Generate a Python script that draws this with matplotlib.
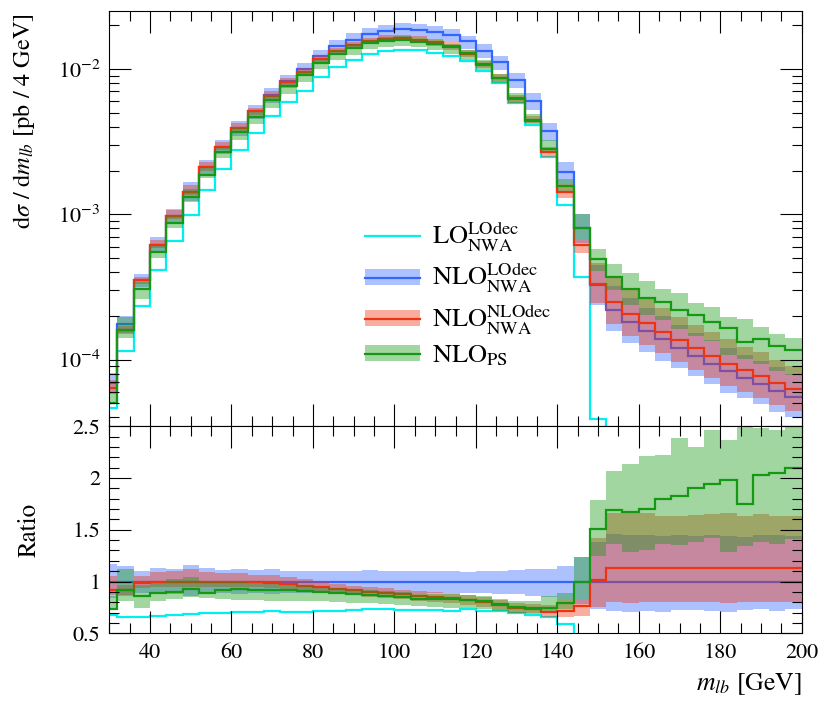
import numpy as np
import matplotlib
matplotlib.use('Agg')
import matplotlib.pyplot as plt
from matplotlib.ticker import MultipleLocator, FormatStrFormatter, NullFormatter
from matplotlib.lines import Line2D
from matplotlib.patches import Patch

plt.rcParams['font.family'] = 'STIXGeneral'
plt.rcParams['mathtext.fontset'] = 'stix'

# bins of 4 GeV, 28..200
bin_edges = np.arange(28, 201, 4)

# NLO_NWA^LOdec central value [pb/4GeV] (reference of the ratio)
nlo_lodec = [6.9e-5, 1.75e-4, 3.55e-4, 6.15e-4, 9.7e-4, 1.43e-3, 2.1e-3, 2.92e-3,
             3.94e-3, 5.1e-3, 6.63e-3, 8.3e-3, 1.0e-2, 1.23e-2, 1.43e-2, 1.59e-2,
             1.73e-2, 1.82e-2, 1.87e-2, 1.85e-2, 1.79e-2, 1.71e-2, 1.55e-2, 1.34e-2,
             1.12e-2, 8.4e-3, 6.05e-3, 3.77e-3, 1.97e-3, 8.1e-4, 3.25e-4, 2.2e-4,
             1.83e-4, 1.57e-4, 1.38e-4, 1.2e-4, 1.06e-4, 9.4e-5, 8.3e-5, 7.5e-5,
             6.8e-5, 6.1e-5, 5.55e-5]
nlo_lodec_hi = [1.17, 1.15, 1.10, 1.13, 1.12, 1.16, 1.13, 1.11, 1.12, 1.11, 1.12, 1.10,
                1.105, 1.105, 1.10, 1.105, 1.11, 1.10, 1.105, 1.10, 1.105, 1.10, 1.09,
                1.10, 1.105, 1.11, 1.125, 1.125, 1.155, 1.24, 1.38, 1.46, 1.45, 1.45,
                1.44, 1.45, 1.44, 1.45, 1.44, 1.43, 1.45, 1.45, 1.44]
nlo_lodec_lo = [0.84, 0.86, 0.89, 0.88, 0.88, 0.86, 0.88, 0.89, 0.88, 0.89, 0.88, 0.89,
                0.89, 0.89, 0.89, 0.89, 0.885, 0.89, 0.885, 0.89, 0.885, 0.89, 0.89,
                0.885, 0.88, 0.875, 0.865, 0.85, 0.83, 0.78, 0.73, 0.72, 0.71, 0.72,
                0.71, 0.725, 0.725, 0.72, 0.71, 0.725, 0.73, 0.72, 0.73]

# ratios to NLO_NWA^LOdec
lo_ratio = [0.675, 0.66, 0.655, 0.67, 0.68, 0.69, 0.70, 0.70, 0.705, 0.71, 0.715, 0.71,
            0.71, 0.72, 0.72, 0.725, 0.73, 0.73, 0.725, 0.725, 0.725, 0.72, 0.73, 0.72,
            0.715, 0.70, 0.68, 0.66, 0.59, 0.455, 0.12, 0, 0, 0, 0, 0, 0, 0, 0, 0,
            0, 0, 0]

nlodec_ratio = [0.92, 0.92, 0.99, 1.0, 1.0, 1.0, 1.0, 1.0, 1.0, 1.0, 0.99, 0.98, 0.96,
                0.95, 0.93, 0.915, 0.90, 0.89, 0.875, 0.86, 0.85, 0.84, 0.82, 0.80,
                0.77, 0.745, 0.73, 0.71, 0.72, 0.765, 1.015, 1.13, 1.13, 1.13, 1.13,
                1.13, 1.13, 1.13, 1.13, 1.13, 1.13, 1.13, 1.13]
nlodec_hi = [1.05, 0.97, 1.05, 1.09, 1.10, 1.12, 1.09, 1.08, 1.08, 1.06, 1.06, 1.045,
             1.02, 1.0, 0.98, 0.96, 0.95, 0.94, 0.92, 0.91, 0.90, 0.89, 0.87, 0.85,
             0.82, 0.79, 0.78, 0.77, 0.83, 0.83, 1.42, 1.66, 1.66, 1.66, 1.63, 1.63,
             1.64, 1.65, 1.66, 1.63, 1.65, 1.63, 1.63]
nlodec_lo = [0.87, 0.87, 0.94, 0.95, 0.95, 0.95, 0.95, 0.95, 0.95, 0.95, 0.94, 0.93,
             0.91, 0.90, 0.88, 0.87, 0.855, 0.845, 0.83, 0.815, 0.805, 0.795, 0.775,
             0.755, 0.725, 0.70, 0.69, 0.66, 0.66, 0.665, 0.75, 0.80, 0.79, 0.80, 0.80,
             0.80, 0.80, 0.80, 0.79, 0.80, 0.80, 0.80, 0.80]

ps_ratio = [0.73, 0.92, 0.86, 0.89, 0.90, 0.925, 0.89, 0.92, 0.93, 0.92, 0.92, 0.92,
            0.91, 0.90, 0.885, 0.875, 0.87, 0.86, 0.85, 0.835, 0.835, 0.835, 0.825,
            0.81, 0.78, 0.755, 0.74, 0.745, 0.79, 1.0, 1.51, 1.69, 1.67, 1.705, 1.80,
            1.83, 1.90, 1.94, 1.98, 1.75, 2.03, 2.05, 2.10]
ps_hi = [0.86, 1.125, 0.97, 0.99, 1.02, 1.04, 1.0, 1.0, 1.0, 0.99, 0.99, 0.97, 0.96,
         0.95, 0.94, 0.93, 0.92, 0.91, 0.90, 0.89, 0.88, 0.875, 0.874, 0.858, 0.83,
         0.81, 0.81, 0.86, 0.89, 1.24, 1.79, 2.07, 2.14, 2.21, 2.22, 2.39, 2.30, 2.46,
         2.37, 2.52, 2.48, 2.46, 2.55]
ps_lo = [0.73, 0.81, 0.74, 0.81, 0.83, 0.855, 0.84, 0.83, 0.82, 0.82, 0.81, 0.81,
         0.81, 0.81, 0.80, 0.79, 0.79, 0.78, 0.77, 0.76, 0.755, 0.745, 0.745, 0.73,
         0.72, 0.70, 0.70, 0.72, 0.73, 0.83, 1.25, 1.36, 1.29, 1.30, 1.36, 1.35, 1.38,
         1.42, 1.29, 1.34, 1.38, 1.36, 1.41]

labels = [r'$\mathrm{LO}^{\mathrm{LOdec}}_{\mathrm{NWA}}$',
          r'$\mathrm{NLO}^{\mathrm{LOdec}}_{\mathrm{NWA}}$',
          r'$\mathrm{NLO}^{\mathrm{NLOdec}}_{\mathrm{NWA}}$',
          r'$\mathrm{NLO}_{\mathrm{PS}}$']

c_lo = '#00f0f0'
c_blue = '#3366ff'
c_red = '#ee3311'
c_green = '#159915'
band_alpha = 0.4
lw = 1.6

ref = np.array(nlo_lodec)

fig = plt.figure(figsize=(8.3, 7.08), dpi=100)
ax1 = fig.add_axes([0.1317, 0.3979, 0.8342, 0.5866])
ax2 = fig.add_axes([0.1317, 0.1055, 0.8342, 0.2924], sharex=ax1)

######################################
# main panel
ax1.set_yscale('log')
ax1.stairs(ref * np.array(lo_ratio), bin_edges, baseline=None, color=c_lo, lw=lw)
ax1.stairs(ref * np.array(nlo_lodec_hi), bin_edges, baseline=ref * np.array(nlo_lodec_lo),
           fill=True, color=c_blue, alpha=band_alpha, lw=0)
ax1.stairs(ref, bin_edges, baseline=None, color=c_blue, lw=lw)
ax1.stairs(ref * np.array(nlodec_hi), bin_edges, baseline=ref * np.array(nlodec_lo),
           fill=True, color=c_red, alpha=band_alpha, lw=0)
ax1.stairs(ref * np.array(nlodec_ratio), bin_edges, baseline=None, color=c_red, lw=lw)
ax1.stairs(ref * np.array(ps_hi), bin_edges, baseline=ref * np.array(ps_lo),
           fill=True, color=c_green, alpha=band_alpha, lw=0)
ax1.stairs(ref * np.array(ps_ratio), bin_edges, baseline=None, color=c_green, lw=lw)

ax1.set_xlim(30, 200)
ax1.set_ylim(3.48e-5, 2.507e-2)
ax1.set_ylabel(r'$\mathrm{d}\sigma\ /\ \mathrm{d}m_{lb}$ [pb / 4 GeV]', fontsize=17.5, loc='top')
ax1.yaxis.set_label_coords(-0.104, 0.995)
ax1.yaxis.set_minor_formatter(NullFormatter())
plt.setp(ax1.get_xticklabels(), visible=False)

handles = [Line2D([], [], color=c_lo, lw=lw),
           (Patch(color=c_blue, alpha=band_alpha, lw=0), Line2D([], [], color=c_blue, lw=lw)),
           (Patch(color=c_red, alpha=band_alpha, lw=0), Line2D([], [], color=c_red, lw=lw)),
           (Patch(color=c_green, alpha=band_alpha, lw=0), Line2D([], [], color=c_green, lw=lw))]
ax1.legend(handles, labels, loc='center left', bbox_to_anchor=(0.335, 0.318),
           frameon=False, fontsize=19, handlelength=2.08, handleheight=0.55,
           handletextpad=0.45, labelspacing=0.27)

######################################
# ratio panel
ones = np.ones(len(ref))
ax2.stairs(lo_ratio, bin_edges, baseline=None, color=c_lo, lw=lw)
ax2.stairs(nlo_lodec_hi, bin_edges, baseline=nlo_lodec_lo, fill=True,
           color=c_blue, alpha=band_alpha, lw=0)
ax2.stairs(ones, bin_edges, baseline=None, color=c_blue, lw=lw)
ax2.stairs(nlodec_hi, bin_edges, baseline=nlodec_lo, fill=True,
           color=c_red, alpha=band_alpha, lw=0)
ax2.stairs(nlodec_ratio, bin_edges, baseline=None, color=c_red, lw=lw)
ax2.stairs(ps_hi, bin_edges, baseline=ps_lo, fill=True,
           color=c_green, alpha=band_alpha, lw=0)
ax2.stairs(ps_ratio, bin_edges, baseline=None, color=c_green, lw=lw)

ax2.set_ylim(0.5, 2.5)
ax2.yaxis.set_major_locator(MultipleLocator(0.5))
ax2.yaxis.set_minor_locator(MultipleLocator(0.1))
ax2.yaxis.set_major_formatter(FormatStrFormatter('%g'))
ax2.xaxis.set_major_locator(MultipleLocator(20))
ax2.xaxis.set_minor_locator(MultipleLocator(5))
ax2.set_ylabel('Ratio', fontsize=18)
ax2.yaxis.set_label_coords(-0.098, 0.5)
ax2.set_xlabel(r'$m_{lb}$ [GeV]', fontsize=18.5, loc='right')
ax2.xaxis.set_label_coords(1.0, -0.185)

for ax in (ax1, ax2):
    ax.tick_params(which='both', direction='in', top=True, right=True, labelsize=16)
    ax.tick_params(which='major', length=15.5, width=0.8)
    ax.tick_params(which='minor', length=7.5, width=0.8)
    ax.tick_params(axis='y', which='both', pad=6.5)
    ax.tick_params(axis='x', which='both', pad=7)
    for s in ax.spines.values():
        s.set_linewidth(0.8)

fig.savefig('out.png', dpi=100)
